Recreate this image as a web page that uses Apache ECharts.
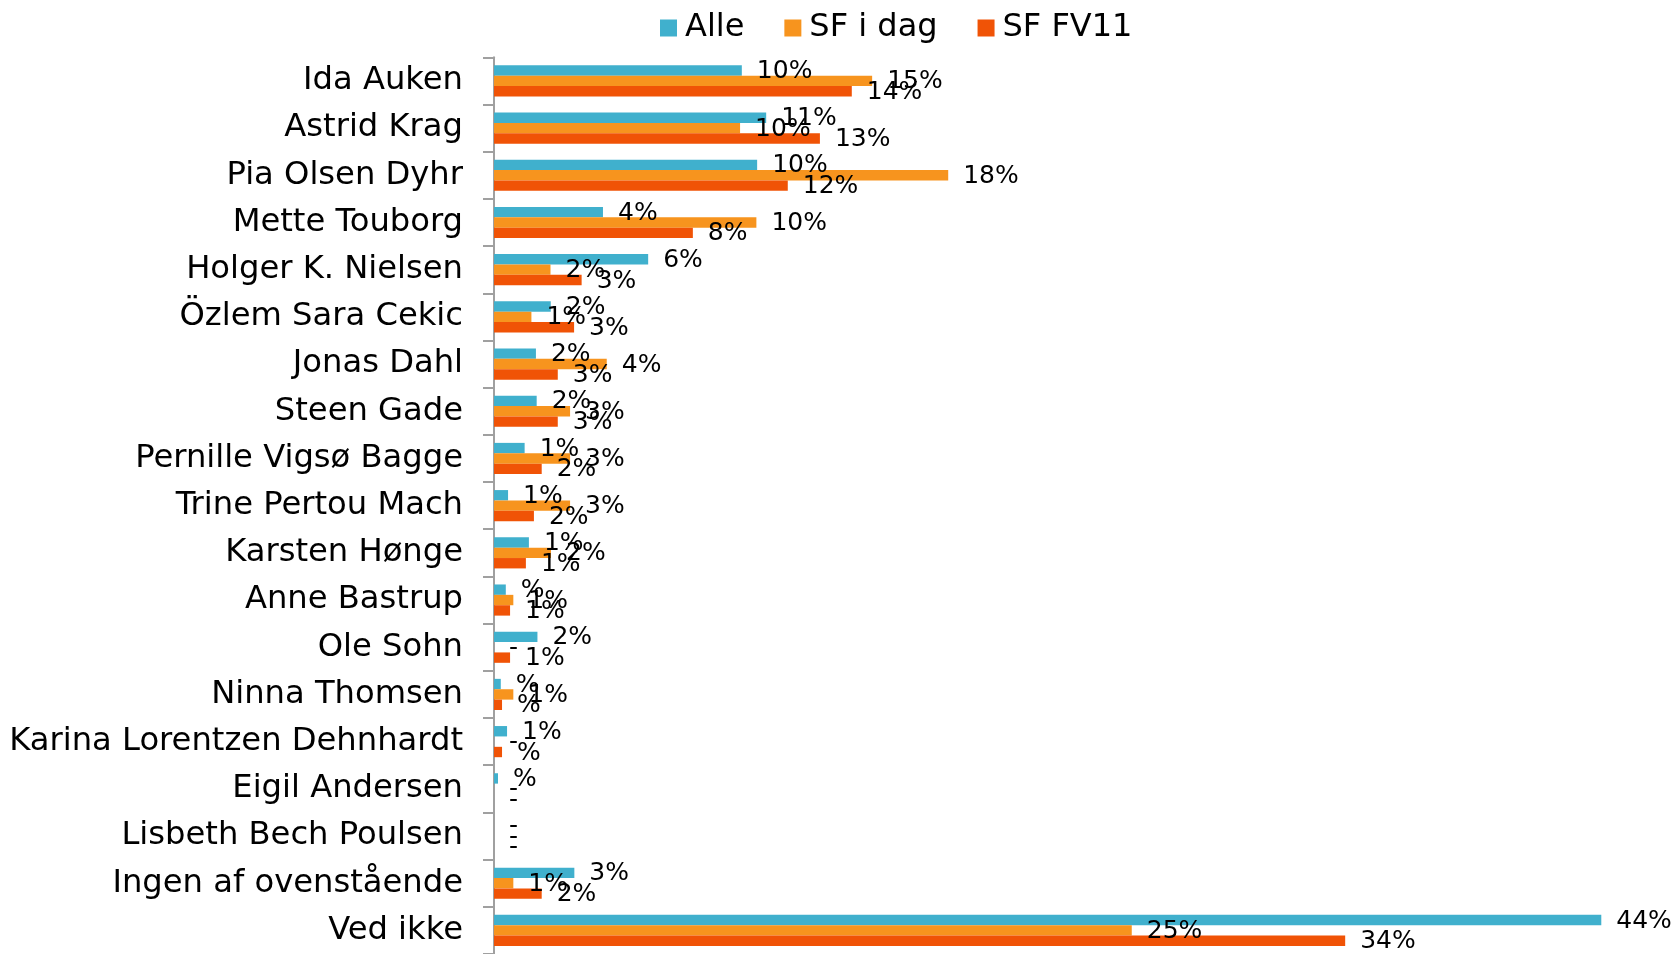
<!DOCTYPE html>
<html>
<head>
<meta charset="utf-8">
<script src="https://cdn.jsdelivr.net/npm/echarts@6/dist/echarts.min.js"></script>
<style>
  html, body { margin: 0; padding: 0; background: #fff; }
  #chart { width: 1676px; height: 954px; }
</style>
</head>
<body>
<div id="chart"></div>
<script>
// kandidater
const categories = [
  'Ida Auken', 'Astrid Krag', 'Pia Olsen Dyhr', 'Mette Touborg', 'Holger K. Nielsen',
  'Özlem Sara Cekic', 'Jonas Dahl', 'Steen Gade', 'Pernille Vigsø Bagge', 'Trine Pertou Mach',
  'Karsten Hønge', 'Anne Bastrup', 'Ole Sohn', 'Ninna Thomsen', 'Karina Lorentzen Dehnhardt',
  'Eigil Andersen', 'Lisbeth Bech Poulsen', 'Ingen af ovenstående', 'Ved ikke'
];
const seriesNames = ['Alle', 'SF i dag', 'SF FV11'];

// procent
const alle = [9.87, 10.84, 10.48, 4.34, 6.14, 2.26, 1.67, 1.70, 1.22, 0.56,
  1.39, 0.47, 1.73, 0.27, 0.52, 0.16, 0, 3.2, 44.1];
const sfIDag = [15.06, 9.8, 18.09, 10.45, 2.25, 1.49, 4.49, 3.03, 3.03, 3.03,
  2.27, 0.77, 0, 0.77, 0, 0, 0, 0.77, 25.4];
const sfFv11 = [14.25, 12.98, 11.7, 7.92, 3.49, 3.19, 2.54, 2.54, 1.9, 1.59,
  1.27, 0.64, 0.64, 0.32, 0.32, 0, 0, 1.9, 33.9];

const colors = ['#40B0CD', '#F7941E', '#F05306'];

// talformat som "#%" i Excel: 0 -> "-", under 0,5 -> "%"
function fmtPct(p) {
  const v = p.value;
  if (v === 0) return '-';
  const r = Math.round(v);
  return r === 0 ? '%' : r + '%';
}

const font = 'DejaVu Sans, Verdana, sans-serif';

function makeSeries(name, data, color) {
  return {
    name: name,
    type: 'bar',
    data: data,
    barGap: 0,
    barCategoryGap: '34%',
    itemStyle: { color: color },
    label: {
      show: true,
      position: 'right',
      distance: 15,
      offset: [0, 1],
      formatter: fmtPct,
      color: '#000',
      fontFamily: font,
      fontSize: 25
    }
  };
}

const myChart = echarts.init(document.getElementById('chart'));
const option = {
  animation: false,
  color: colors,
  legend: {
    data: seriesNames,
    left: 655,
    top: 7,
    icon: 'rect',
    itemWidth: 17,
    itemHeight: 17,
    itemGap: 40,
    textStyle: { fontFamily: font, fontSize: 32, color: '#000', padding: [0, 0, 0, 3] }
  },
  grid: {
    left: 494,
    top: 57.3,
    right: 27,
    height: 901
  },
  xAxis: {
    type: 'value',
    min: 0,
    max: 46,
    show: false
  },
  yAxis: {
    type: 'category',
    inverse: true,
    data: categories,
    axisLine: { show: true, lineStyle: { color: '#A0A0A0', width: 2 } },
    axisTick: { show: true, alignWithLabel: false, interval: 0, length: 11, lineStyle: { color: '#A0A0A0', width: 2 } },
    axisLabel: {
      margin: 31,
      color: '#000',
      fontFamily: font,
      fontSize: 32.2,
      interval: 0
    }
  },
  series: [
    makeSeries(seriesNames[0], alle, colors[0]),
    makeSeries(seriesNames[1], sfIDag, colors[1]),
    makeSeries(seriesNames[2], sfFv11, colors[2])
  ]
};
myChart.setOption(option);
</script>
</body>
</html>
